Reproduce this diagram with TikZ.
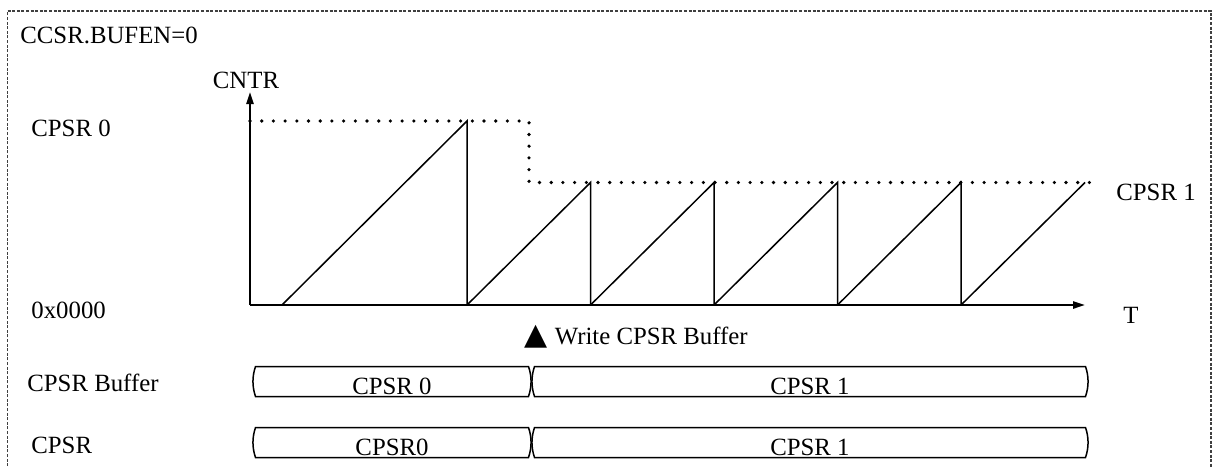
\documentclass[tikz,border=0pt]{standalone}
\usepackage{fontspec}
\setmainfont{Liberation Serif}
\newfontfamily\symfont{DejaVu Sans}
\usetikzlibrary{arrows.meta}
\tikzset{
  lbl/.style={inner sep=0pt,font=\fontsize{12.4}{14}\selectfont},
  axis/.style={line width=1pt,-{Triangle[length=6pt,width=3.6pt]}},
  saw/.style={line width=0.75pt},
  lvl/.style={line width=1.8pt,line cap=round,dash pattern=on 0pt off 5.85pt},
  bus/.style={line width=0.75pt},
  frame/.style={black!75,line width=0.55pt,dash pattern=on 1.5pt off 0.8pt},
}
% one segment of a bus row: left x, right x, top y, name, text
\newcommand\busseg[5]{%
  \draw[bus] (#1+2.5,#3) -- (#2-2.5,#3)
    .. controls (#2+0.9,#3+10) and (#2+0.9,#3+20) .. (#2-2.5,#3+30)
    -- (#1+2.5,#3+30)
    .. controls (#1-0.9,#3+20) and (#1-0.9,#3+10) .. (#1+2.5,#3) -- cycle;
  \node[lbl,anchor=base] (#4) at ({(#1+#2)/2},#3+27.5) {#5};}

\begin{document}
\begin{tikzpicture}[x=0.5pt,y=-0.5pt]
\useasboundingbox (0,0) rectangle (1214,466);
\draw[frame] (7.5,480) |- (1211,11) -- (1211,480);

% labels
\node[lbl,anchor=base west] (mode) at (20,43) {CCSR.BUFEN=0};
\node[lbl,anchor=base] (cntr) at (246,88) {CNTR};
\node[lbl,anchor=base west] (top0) at (31,136.5) {CPSR 0};
\node[lbl,anchor=base west] (top1) at (1116,200) {CPSR 1};
\node[lbl,anchor=base west] (zero) at (31,318.5) {0x0000};
\node[lbl,anchor=base] (tlbl) at (1131,323) {T};
\node[lbl,anchor=base west] (wr) at (524,344) {{\symfont\fontsize{15}{15}\selectfont ▲}\hspace{0.3em}Write CPSR Buffer};
\node[lbl,anchor=base west] (bufl) at (27,391.5) {CPSR Buffer};
\node[lbl,anchor=base west] (regl) at (31,453) {CPSR};

% axes
\coordinate (o) at (250,305);
\coordinate (ytip) at (250,92);
\coordinate (xtip) at (1085,305);
\draw[axis] (o) -- (ytip);
\draw[axis] (o) -- (xtip);

% compare levels
\draw[lvl] (250,121) -- (529,121) -- (529,182.5) -- (1097,182.5);

% counter
\draw[saw] (282,305) -- (467,121) -- (467,305);
\foreach \a/\b in {467/590.5,590.5/714,714/837.5,837.5/961}
  \draw[saw] (\a,305) -- (\b,182.5) -- (\b,305);
\draw[saw] (961,305) -- (1085,182.5);

% buffer and register
\busseg{253}{531}{366.5}{buf0}{CPSR 0}
\busseg{532}{1088}{366.5}{buf1}{CPSR 1}
\busseg{253}{531}{427.5}{reg0}{CPSR0}
\busseg{532}{1088}{427.5}{reg1}{CPSR 1}
\end{tikzpicture}
\end{document}
